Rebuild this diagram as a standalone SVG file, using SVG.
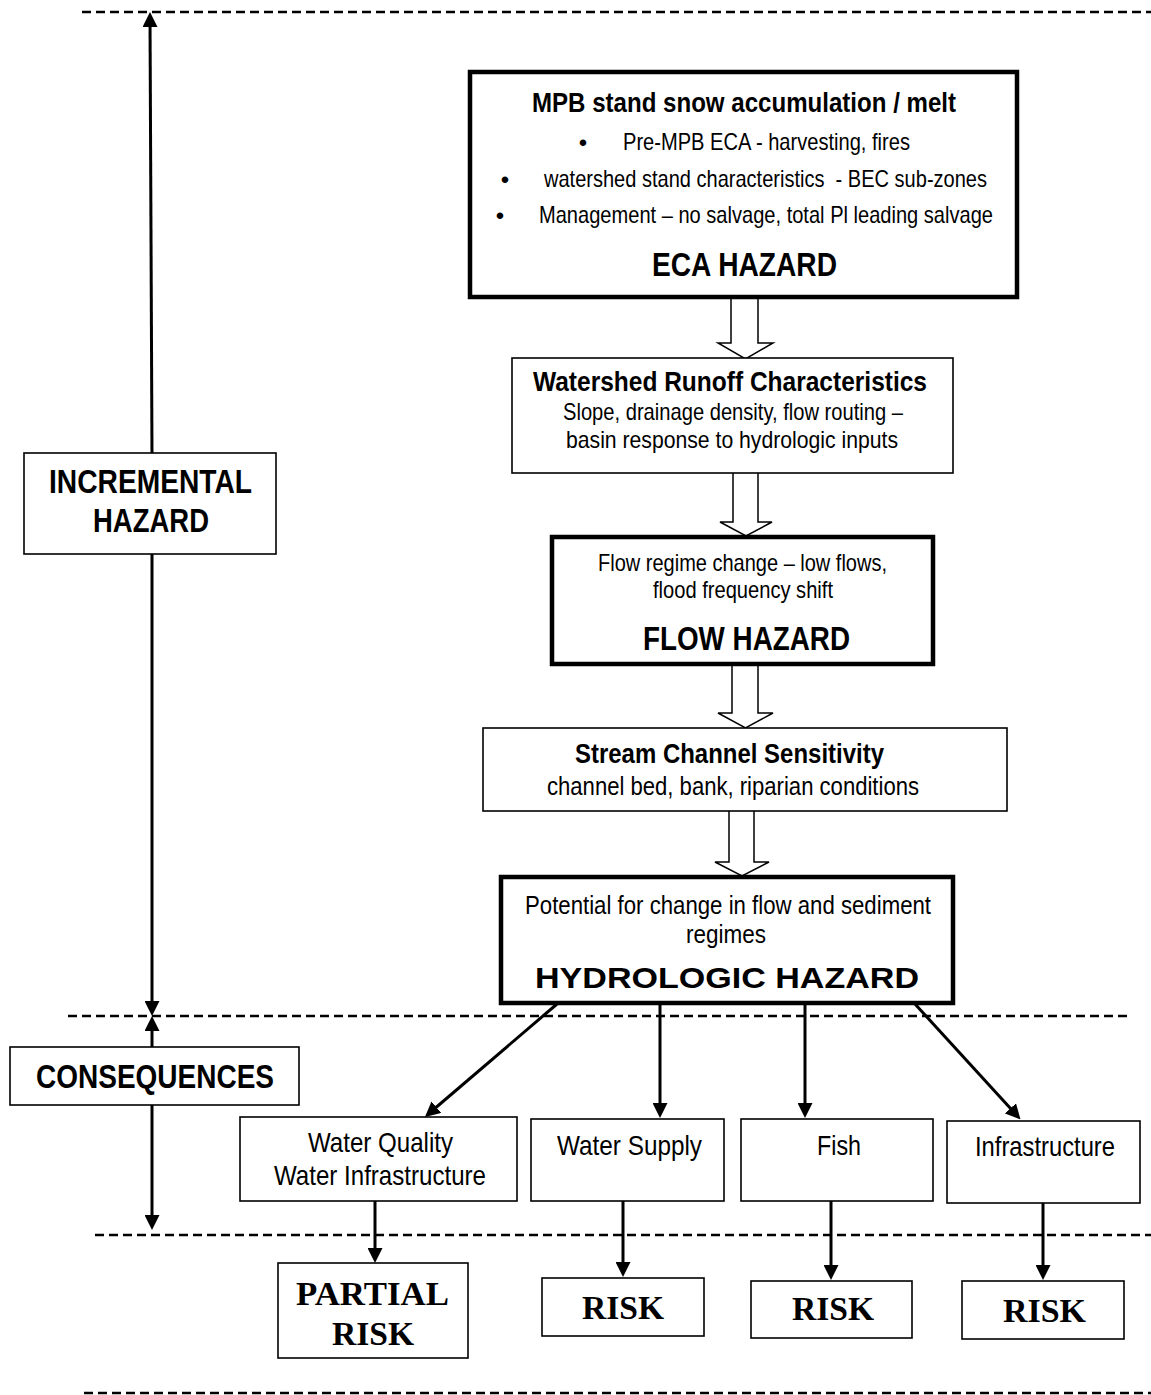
<svg xmlns="http://www.w3.org/2000/svg" width="1151" height="1395" viewBox="0 0 1151 1395">
<style>
.bx{fill:#fff;stroke:#000;stroke-width:1.6}
.bt{fill:#fff;stroke:#000;stroke-width:4.5}
.t{font-family:"Liberation Sans Narrow","Liberation Sans",Arial,sans-serif;fill:#000}
.b{font-weight:bold}
.s{font-family:"Liberation Serif","Times New Roman",serif;font-weight:bold;fill:#000}
.dash{stroke:#000;stroke-width:2.6;stroke-dasharray:9 5;fill:none}
.ln{stroke:#000;stroke-width:3;fill:none}
.blk{fill:#fff;stroke:#000;stroke-width:1.5;stroke-linejoin:miter}
</style>
<defs>
<marker id="ah" viewBox="0 0 15 15" refX="9" refY="7.5" markerWidth="15" markerHeight="15" markerUnits="userSpaceOnUse" orient="auto-start-reverse">
<path d="M0,0 L15,7.5 L0,15 z" fill="#000"/>
</marker>
</defs>
<rect width="1151" height="1395" fill="#fff"/>

<g id="separators">
<line class="dash" x1="82" y1="12" x2="1151" y2="12"/>
<line class="dash" x1="68" y1="1016" x2="1130" y2="1016"/>
<line class="dash" x1="95" y1="1235" x2="1151" y2="1235"/>
<line class="dash" x1="84" y1="1393" x2="1151" y2="1393"/>
</g>

<g id="connectors">
<line class="ln" x1="150" y1="18" x2="152" y2="453" marker-start="url(#ah)"/>
<line class="ln" x1="152" y1="554" x2="152" y2="1010" marker-end="url(#ah)"/>
<line class="ln" x1="152" y1="1047" x2="152" y2="1022" marker-end="url(#ah)"/>
<line class="ln" x1="152" y1="1105" x2="152" y2="1224" marker-end="url(#ah)"/>
<path class="blk" d="M731,297 V343 H718 L745.5,359 L773,343 H758 V297"/>
<path class="blk" d="M733,473 V522 H720 L746,536 L772,522 H758 V473"/>
<path class="blk" d="M732,664 V713 H718 L745.5,728 L773,713 H758 V664"/>
<path class="blk" d="M729,811 V862 H715 L742,876 L769,862 H754 V811"/>
<line class="ln" x1="557" y1="1004" x2="429.5" y2="1113" marker-end="url(#ah)"/>
<line class="ln" x1="660" y1="1004" x2="660" y2="1112" marker-end="url(#ah)"/>
<line class="ln" x1="805" y1="1004" x2="805" y2="1112" marker-end="url(#ah)"/>
<line class="ln" x1="915" y1="1004" x2="1016.5" y2="1115" marker-end="url(#ah)"/>
<line class="ln" x1="375" y1="1201" x2="375" y2="1257" marker-end="url(#ah)"/>
<line class="ln" x1="623" y1="1201" x2="623" y2="1271" marker-end="url(#ah)"/>
<line class="ln" x1="831" y1="1201" x2="831" y2="1274" marker-end="url(#ah)"/>
<line class="ln" x1="1043" y1="1203" x2="1043" y2="1274" marker-end="url(#ah)"/>
</g>

<g id="incremental-hazard">
<rect class="bx" x="24" y="453" width="252" height="101"/>
<text class="t b" x="49" y="493" font-size="34" textLength="203" lengthAdjust="spacingAndGlyphs">INCREMENTAL</text>
<text class="t b" x="93" y="532" font-size="34" textLength="116" lengthAdjust="spacingAndGlyphs">HAZARD</text>
</g>

<g id="consequences">
<rect class="bx" x="10" y="1047" width="289" height="58"/>
<text class="t b" x="36" y="1088" font-size="34" textLength="238" lengthAdjust="spacingAndGlyphs">CONSEQUENCES</text>
</g>

<g id="eca-hazard">
<rect class="bt" x="470" y="72" width="547" height="225"/>
<text class="t b" x="532" y="112" font-size="28" textLength="424" lengthAdjust="spacingAndGlyphs">MPB stand snow accumulation / melt</text>
<text class="t" x="583" y="151" font-size="24" text-anchor="middle">•</text>
<text class="t" x="623" y="150" font-size="24" textLength="287" lengthAdjust="spacingAndGlyphs">Pre-MPB ECA - harvesting, fires</text>
<text class="t" x="505" y="188" font-size="24" text-anchor="middle">•</text>
<text class="t" x="544" y="187" font-size="24" textLength="443" lengthAdjust="spacingAndGlyphs" xml:space="preserve">watershed stand characteristics  - BEC sub-zones</text>
<text class="t" x="500" y="224" font-size="24" text-anchor="middle">•</text>
<text class="t" x="539" y="223" font-size="24" textLength="454" lengthAdjust="spacingAndGlyphs">Management – no salvage, total Pl leading salvage</text>
<text class="t b" x="652" y="276" font-size="33" textLength="185" lengthAdjust="spacingAndGlyphs">ECA HAZARD</text>
</g>

<g id="watershed-runoff">
<rect class="bx" x="512" y="358" width="441" height="115"/>
<text class="t b" x="533" y="391" font-size="28" textLength="394" lengthAdjust="spacingAndGlyphs">Watershed Runoff Characteristics</text>
<text class="t" x="563" y="420" font-size="24" textLength="340" lengthAdjust="spacingAndGlyphs">Slope, drainage density, flow routing –</text>
<text class="t" x="566" y="448" font-size="24" textLength="332" lengthAdjust="spacingAndGlyphs">basin response to hydrologic inputs</text>
</g>

<g id="flow-hazard">
<rect class="bt" x="552" y="537" width="381" height="127"/>
<text class="t" x="598" y="571" font-size="24" textLength="289" lengthAdjust="spacingAndGlyphs">Flow regime change – low flows,</text>
<text class="t" x="653" y="598" font-size="24" textLength="180" lengthAdjust="spacingAndGlyphs">flood frequency shift</text>
<text class="t b" x="643" y="650" font-size="33" textLength="207" lengthAdjust="spacingAndGlyphs">FLOW HAZARD</text>
</g>

<g id="stream-channel">
<rect class="bx" x="483" y="728" width="524" height="83"/>
<text class="t b" x="575" y="763" font-size="28" textLength="309" lengthAdjust="spacingAndGlyphs">Stream Channel Sensitivity</text>
<text class="t" x="547" y="795" font-size="25" textLength="372" lengthAdjust="spacingAndGlyphs">channel bed, bank, riparian conditions</text>
</g>

<g id="hydrologic-hazard">
<rect class="bt" x="501" y="877" width="452" height="126"/>
<text class="t" x="525" y="914" font-size="26" textLength="406" lengthAdjust="spacingAndGlyphs">Potential for change in flow and sediment</text>
<text class="t" x="686" y="943" font-size="26" textLength="80" lengthAdjust="spacingAndGlyphs">regimes</text>
<text class="t b" x="535" y="988" font-size="30" textLength="384" lengthAdjust="spacingAndGlyphs">HYDROLOGIC HAZARD</text>
</g>

<g id="water-quality">
<rect class="bx" x="240" y="1117" width="277" height="84"/>
<text class="t" x="308" y="1152" font-size="28" textLength="145" lengthAdjust="spacingAndGlyphs">Water Quality</text>
<text class="t" x="274" y="1185" font-size="28" textLength="212" lengthAdjust="spacingAndGlyphs">Water Infrastructure</text>
</g>

<g id="water-supply">
<rect class="bx" x="531" y="1119" width="193" height="82"/>
<text class="t" x="557" y="1155" font-size="28" textLength="145" lengthAdjust="spacingAndGlyphs">Water Supply</text>
</g>

<g id="fish">
<rect class="bx" x="741" y="1119" width="192" height="82"/>
<text class="t" x="817" y="1155" font-size="28" textLength="44" lengthAdjust="spacingAndGlyphs">Fish</text>
</g>

<g id="infrastructure">
<rect class="bx" x="947" y="1121" width="193" height="82"/>
<text class="t" x="975" y="1156" font-size="28" textLength="140" lengthAdjust="spacingAndGlyphs">Infrastructure</text>
</g>

<g id="partial-risk">
<rect class="bx" x="278" y="1263" width="190" height="95"/>
<text class="s" x="296" y="1305" font-size="34" textLength="153" lengthAdjust="spacingAndGlyphs">PARTIAL</text>
<text class="s" x="332" y="1345" font-size="34" textLength="82" lengthAdjust="spacingAndGlyphs">RISK</text>
</g>

<g id="risk-water-supply">
<rect class="bx" x="542" y="1278" width="162" height="58"/>
<text class="s" x="582" y="1319" font-size="34" textLength="82" lengthAdjust="spacingAndGlyphs">RISK</text>
</g>

<g id="risk-fish">
<rect class="bx" x="751" y="1281" width="161" height="57"/>
<text class="s" x="792" y="1320" font-size="34" textLength="82" lengthAdjust="spacingAndGlyphs">RISK</text>
</g>

<g id="risk-infrastructure">
<rect class="bx" x="962" y="1281" width="162" height="58"/>
<text class="s" x="1003" y="1322" font-size="34" textLength="83" lengthAdjust="spacingAndGlyphs">RISK</text>
</g>
</svg>
